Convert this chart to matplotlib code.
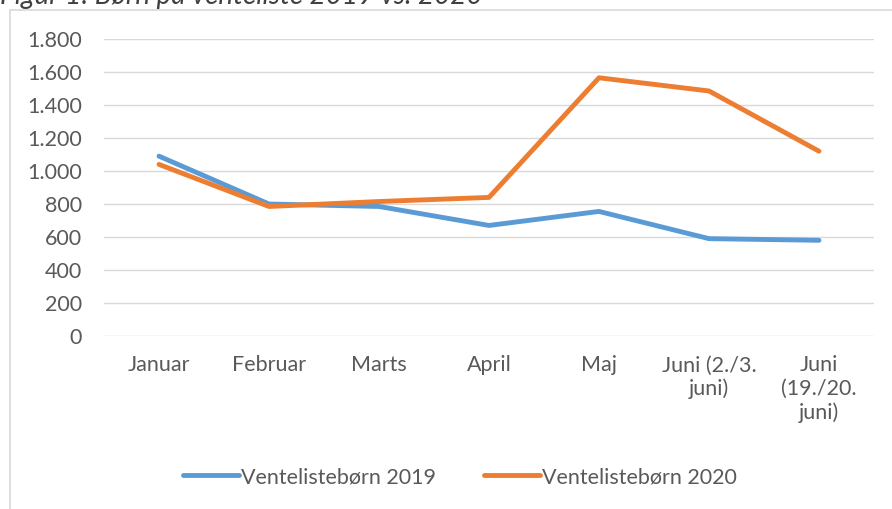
import matplotlib.pyplot as plt
import matplotlib.patches as patches
import matplotlib.ticker as tck

plt.rcParams['font.family'] = ['Lato', 'DejaVu Sans']

# data
months = ["Januar", "Februar", "Marts", "April", "Maj",
          "Juni (2./3.\njuni)", "Juni\n(19./20.\njuni)"]
venteliste_2019 = [1090, 800, 785, 670, 755, 590, 580]
venteliste_2020 = [1040, 785, 815, 840, 1565, 1485, 1120]
yticks = [0, 200, 400, 600, 800, 1000, 1200, 1400, 1600, 1800]

grey_txt = "#595959"
fs = 15.5

fig = plt.figure(figsize=(8.92, 5.09), dpi=100)
ax = fig.add_axes([104/892, 1 - 336/509, 770/892, 297/509])

# chart frame
fig.patches.append(patches.Rectangle((10/892, -0.05), 1.0, 1 - 10/509 + 0.05,
                                     transform=fig.transFigure, fill=False,
                                     edgecolor="#D9D9D9", linewidth=1.2))

# clipped title at very top
fig.text(0.0, 1 - 4/509, "Figur 1: Børn på venteliste 2019 vs. 2020",
         fontsize=20, style="italic", color="#404040", va="baseline")

x = list(range(len(months)))
ax.plot(x, venteliste_2019, color="#5B9BD5", lw=3.5, label="Ventelistebørn 2019",
        solid_capstyle="round", solid_joinstyle="round")
ax.plot(x, venteliste_2020, color="#ED7D31", lw=3.5, label="Ventelistebørn 2020",
        solid_capstyle="round", solid_joinstyle="round")

ax.set_xlim(-0.5, len(months) - 0.5)
ax.set_ylim(0, 1800)
ax.set_yticks(yticks)
ax.yaxis.set_major_formatter(tck.FuncFormatter(lambda v, p: f"{int(v):,}".replace(",", ".")))
ax.set_xticks(x)
ax.set_xticklabels(months, linespacing=1.2)
ax.grid(axis="y", color="#D9D9D9", lw=1)
ax.set_axisbelow(True)
for s in ax.spines.values():
    s.set_visible(False)
ax.tick_params(axis="both", length=0, labelsize=fs, colors=grey_txt)
ax.tick_params(axis="x", pad=14)
ax.tick_params(axis="y", pad=16)

fig.legend(loc="center", bbox_to_anchor=(460/892, 1 - 477/509), ncol=2, frameon=False,
           fontsize=fs, labelcolor=grey_txt, handlelength=2.6, handletextpad=0.1,
           columnspacing=2.2)

fig.savefig("out.png", dpi=100)
